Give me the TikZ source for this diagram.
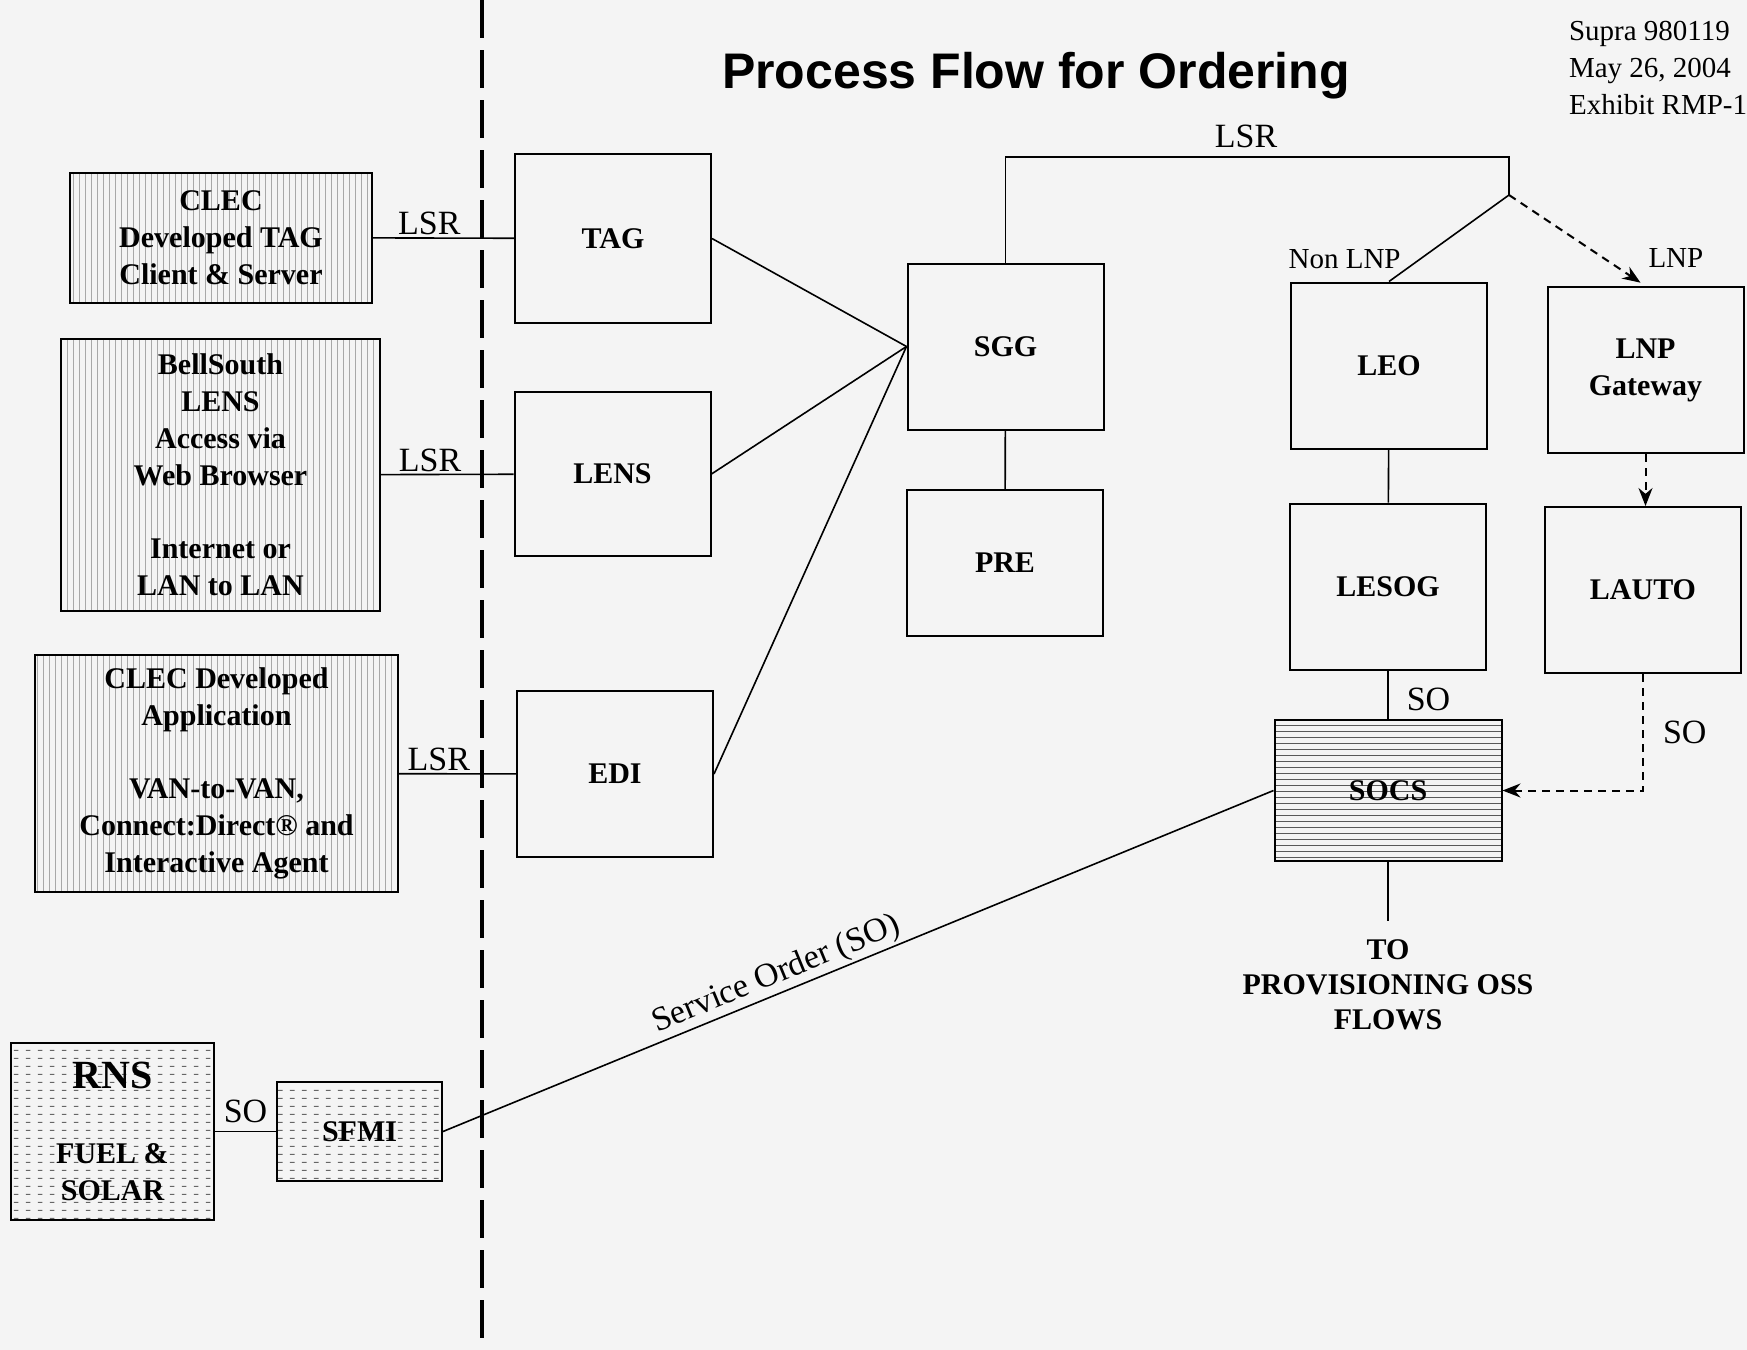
\documentclass[tikz,border=0pt]{standalone}
\usepackage{fontspec}
\setmainfont{Liberation Serif}
\newfontfamily\headfont{Liberation Sans}
\usetikzlibrary{arrows.meta,patterns,calc}
\definecolor{paper}{HTML}{F4F4F4}
\definecolor{hatch}{HTML}{A8A8A8}
\pgfdeclarepatternformonly{dashrows}{\pgfpointorigin}{\pgfqpoint{6pt}{4pt}}{\pgfqpoint{6pt}{4pt}}{%
  \pgfsetlinewidth{0.5pt}\pgfpathmoveto{\pgfqpoint{1pt}{2pt}}\pgfpathlineto{\pgfqpoint{3.5pt}{2pt}}\pgfusepath{stroke}}

\begin{document}
\begin{tikzpicture}[
  x=0.5pt,y=-0.5pt,
  sys/.style={draw,line width=1pt,minimum width=98pt,minimum height=83pt,inner sep=0pt,align=center,font=\bfseries\fontsize{15}{18.5}\selectfont},
  src/.style={sys,pattern=vertical lines,pattern color=hatch},
  oss/.style={sys,pattern=dashrows,pattern color=black!60},
  wire/.style={line width=0.8pt},
  dwire/.style={line width=1pt,dash pattern=on 4pt off 3pt,-{Stealth[length=9pt,width=7pt]}},
  sepline/.style={line width=2pt,dash pattern=on 19pt off 6pt},
  lbl/.style={font=\fontsize{17}{20}\selectfont,inner sep=1pt}
]
\useasboundingbox (0,0) rectangle (1747,1350);
\fill[paper] (0,0) rectangle (1747,1350);
\coordinate (septop) at (482,0);
\coordinate (sepbot) at (482,1350);
\draw[sepline] (septop) -- (sepbot);

\node[font=\headfont\bfseries\fontsize{25}{30}\selectfont] (title) at (1036,76) {Process Flow for Ordering};
\node[anchor=west,align=left,font=\fontsize{14.5}{18.5}\selectfont] (exhibit) at (1562,68) {Supra 980119\\May 26, 2004\\Exhibit RMP-1};

\node[src,minimum width=151pt,minimum height=65pt] (clectag) at (221,237.5) {CLEC\\Developed TAG\\Client \& Server};
\node[src,minimum width=159.5pt,minimum height=136pt] (lensweb) at (220.5,475) {BellSouth\\LENS\\Access via\\Web Browser\\[18pt]Internet or\\LAN to LAN};
\node[src,minimum width=181.5pt,minimum height=118.5pt] (clecapp) at (216.5,773.5) {CLEC Developed\\Application\\[18pt]VAN-to-VAN,\\Connect:Direct\textregistered{} and\\Interactive Agent};
\node[oss,minimum width=101.5pt,minimum height=88.5pt] (rns) at (112.5,1131.5) {{\fontsize{20}{22}\selectfont RNS}\\[19pt]FUEL \&\\SOLAR};
\node[oss,minimum width=82.5pt,minimum height=49.5pt] (sfmi) at (359.5,1131.5) {SFMI};

\node[sys,minimum height=84.5pt] (tag) at (613,238.5) {TAG};
\node[sys,minimum height=82pt] (lens) at (612.5,474) {LENS};
\node[sys] (edi) at (615,774) {EDI};
\node[sys] (sgg) at (1005.5,346.5) {SGG};
\node[sys,minimum height=73pt] (pre) at (1005,563) {PRE};
\node[sys] (leo) at (1389,365.5) {LEO};
\node[sys] (lesog) at (1388,586.5) {LESOG};
\node[sys] (lnpgw) at (1645.5,370) {LNP\\Gateway};
\node[sys] (lauto) at (1643,590) {LAUTO};
\node[sys,minimum width=113.5pt,minimum height=70.5pt,pattern=horizontal lines,pattern color=black!65] (socs) at (1388,790.5) {SOCS};
\node[font=\bfseries\fontsize{15}{17.5}\selectfont,align=center] (toprov) at (1388,985) {TO\\PROVISIONING OSS\\FLOWS};

\coordinate (lsrtop) at (1509,157);
\coordinate (split) at (1509,195);

\draw[wire] (clectag) -- node[lbl,above,pos=0.4] (lsra) {LSR} (tag);
\draw[wire] (lensweb) -- node[lbl,above,pos=0.37] (lsrb) {LSR} (lens);
\draw[wire] (clecapp) -- node[lbl,above,pos=0.34] (lsrc) {LSR} (edi);
\draw[wire] (rns) -- node[lbl,above,inner sep=4pt] (sorns) {SO} (sfmi);
\draw[wire] (sfmi.east) -- node[lbl,above,sloped,pos=0.41] (svcord) {Service Order (SO)} (socs.west);
\draw[wire] (tag.east) -- (sgg.west);
\draw[wire] (lens.east) -- (sgg.west);
\draw[wire] (edi.east) -- (sgg.west);
\draw[wire] (sgg) -- (pre);
\draw[wire] (sgg.north) |- (lsrtop) -- (split);
\node[lbl] (lsrd) at (1246,136) {LSR};
\draw[wire] (split) -- node[lbl,above left,pos=0.88,font=\fontsize{14.5}{17}\selectfont] (nonlnp) {Non LNP} (leo.north);
\draw[dwire,shorten >=3pt] (split) -- node[lbl,at end,above right,yshift=8pt,font=\fontsize{14.5}{17}\selectfont] (lnp) {LNP} (lnpgw.north);
\draw[wire] (leo) -- (lesog);
\draw[wire] (lesog) -- node[lbl,right=8pt,pos=0.6] (solesog) {SO} (socs);
\draw[dwire] (lnpgw.south) -- (lnpgw.south |- lauto.north);
\draw[dwire] (lauto.south) |- node[lbl,right=8.5pt,pos=0.25] (solauto) {SO} (socs.east);
\draw[wire,shorten >=6pt] (socs) -- (toprov);
\end{tikzpicture}
\end{document}
